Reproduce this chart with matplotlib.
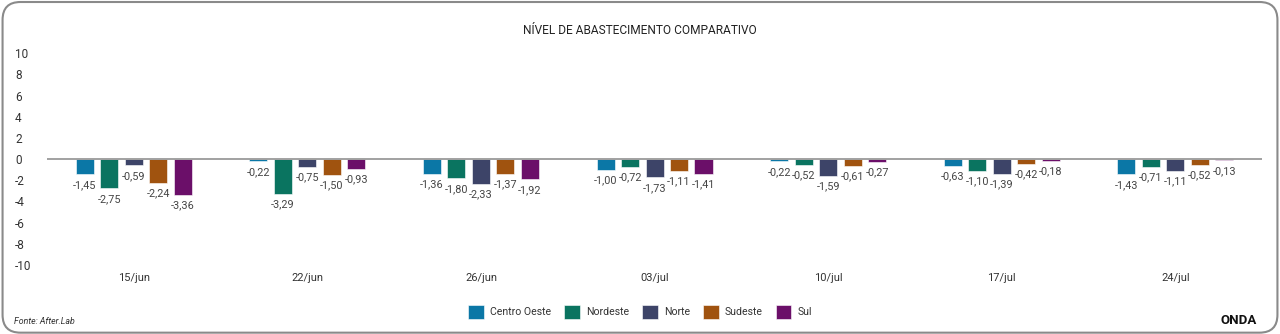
import numpy as np
import matplotlib
matplotlib.use("Agg")
import matplotlib.pyplot as plt
from matplotlib.patches import FancyBboxPatch, Patch

#------------DADOS--------------------------
datas = ["15/jun", "22/jun", "26/jun", "03/jul", "10/jul", "17/jul", "24/jul"]
regioes = ["Centro Oeste", "Nordeste", "Norte", "Sudeste", "Sul"]

centro_oeste = [-1.45, -0.22, -1.36, -1.00, -0.22, -0.63, -1.43]
nordeste = [-2.75, -3.29, -1.80, -0.72, -0.52, -1.10, -0.71]
norte = [-0.59, -0.75, -2.33, -1.73, -1.59, -1.39, -1.11]
sudeste = [-2.24, -1.50, -1.37, -1.11, -0.61, -0.42, -0.52]
sul = [-3.36, -0.93, -1.92, -1.41, -0.27, -0.18, -0.13]

cores = ["#0B77A6", "#0A7460", "#3D4468", "#A0530F", "#6B0F69"]
y_ticks = list(range(-10, 11, 2))

#------------FIGURA--------------------------
plt.rcParams["font.family"] = ["Roboto", "DejaVu Sans"]
plt.rcParams["axes.unicode_minus"] = False

fig = plt.figure(figsize=(12.8, 3.34), dpi=100)
ax = fig.add_axes([0.0367, 0.2066, 0.9493, 0.634])

series = [centro_oeste, nordeste, norte, sudeste, sul]
x = np.arange(len(datas))
passo = 0.141
largura = 0.104

for i, (valores, cor) in enumerate(zip(series, cores)):
    pos = x + (i - 2) * passo
    ax.bar(pos, valores, width=largura, color=cor, zorder=2,
           edgecolor="white", linewidth=0.4)
    for px, v in zip(pos, valores):
        ax.annotate(f"{v:.2f}".replace(".", ","), (px, v),
                    xytext=(0, -4), textcoords="offset points",
                    ha="center", va="top", fontsize=7.8, color="#444444")

ax.axhline(0, color="#9a9a9a", lw=1.3, zorder=3)

ax.set_xlim(-0.5, len(datas) - 0.5)
ax.set_ylim(-10, 10)
ax.set_xticks(x)
ax.set_xticklabels(datas, fontsize=8, color="#333333")
ax.set_yticks(y_ticks)
ax.set_yticklabels([str(t) for t in y_ticks], fontsize=8.5, color="#333333",
                   ha="left")
ax.tick_params(axis="y", length=0, pad=23)
ax.tick_params(axis="x", length=0, pad=6)
for s in ax.spines.values():
    s.set_visible(False)

#------------TITULO, LEGENDA E RODAPE--------------------------
fig.text(0.5, 1 - 30 / 334, "NÍVEL DE ABASTECIMENTO COMPARATIVO",
         ha="center", va="center", fontsize=8.6, color="#222222")

handles = [Patch(facecolor=c, edgecolor="white", linewidth=0.4, label=r)
           for c, r in zip(cores, regioes)]
fig.legend(handles=handles, loc="center", bbox_to_anchor=(0.5, 1 - 312 / 334),
           ncol=5, frameon=False, fontsize=7.6, handlelength=1.5,
           handleheight=1.7, columnspacing=1.2, handletextpad=0.6,
           labelcolor="#333333")

fig.text(14 / 1280, 1 - 321 / 334, "Fonte: After.Lab", ha="left", va="center",
         fontsize=6.3, style="italic", color="#333333")
fig.text(1257 / 1280, 1 - 320 / 334, "ONDA", ha="right", va="center",
         fontsize=9.5, fontweight="bold", color="#111111")

borda = FancyBboxPatch((0.002, 0.004), 0.996, 0.99, transform=fig.transFigure,
                       boxstyle="round,pad=0,rounding_size=0.014",
                       facecolor="none", edgecolor="#8a8a8a", linewidth=1.5,
                       mutation_aspect=1280 / 334)
fig.patches.append(borda)

fig.savefig("out.png", dpi=100)
